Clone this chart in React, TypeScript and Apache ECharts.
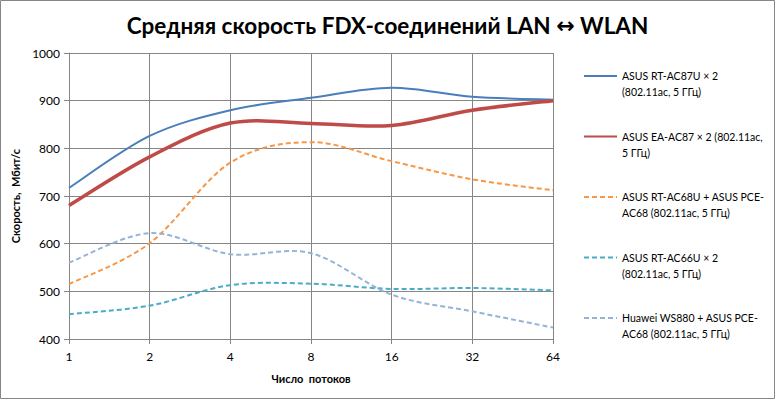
import React, { useEffect, useRef } from "react";
import * as echarts from "echarts";

const threads = ["1", "2", "4", "8", "16", "32", "64"];
const seriesNames = [
  "ASUS RT-AC87U × 2 (802.11ac, 5 ГГц)",
  "ASUS EA-AC87 × 2 (802.11ac, 5 ГГц)",
  "ASUS RT-AC68U + ASUS PCE-AC68 (802.11ac, 5 ГГц)",
  "ASUS RT-AC66U × 2 (802.11ac, 5 ГГц)",
  "Huawei WS880 + ASUS PCE-AC68 (802.11ac, 5 ГГц)",
];
const legendLabels = [
  "ASUS RT-AC87U × 2\n(802.11ac, 5 ГГц)",
  "ASUS EA-AC87 × 2 (802.11ac,\n5 ГГц)",
  "ASUS RT-AC68U + ASUS PCE-\nAC68 (802.11ac, 5 ГГц)",
  "ASUS RT-AC66U × 2\n(802.11ac, 5 ГГц)",
  "Huawei WS880 + ASUS PCE-\nAC68 (802.11ac, 5 ГГц)",
];
const rtAc87u = [717, 826, 880, 906, 927, 908, 902];
const eaAc87 = [680, 782, 853, 852, 848, 880, 900];
const rtAc68u = [515, 601, 770, 813, 773, 735, 712];
const rtAc66u = [452, 470, 513, 516, 505, 507, 502];
const ws880 = [560, 622, 578, 580, 493, 458, 424];
const yTicks = { min: 400, max: 1000, interval: 100 };

const colors = ["#4a7ebb", "#be4b48", "#f79646", "#4bacc6", "#95b3d7"];
const widths = [2, 3.5, 2, 2, 2];
const dashed = [false, false, true, true, true];
const allData = [rtAc87u, eaAc87, rtAc68u, rtAc66u, ws880];

const FONT = "Lato, 'Open Sans', sans-serif";

// Excel-like smoothed path (Catmull-Rom converted to Bezier) in pixel space, from axis coords
function smoothPath(api: any, values: number[]): string {
  const pts = values.map((v, i) => api.coord([i, v]) as number[]);
  const n = pts.length;
  let d = `M${pts[0][0]},${pts[0][1]}`;
  for (let i = 0; i < n - 1; i++) {
    const p0 = pts[Math.max(i - 1, 0)];
    const p1 = pts[i];
    const p2 = pts[i + 1];
    const p3 = pts[Math.min(i + 2, n - 1)];
    const c1x = p1[0] + (p2[0] - p0[0]) / 6;
    const c1y = p1[1] + (p2[1] - p0[1]) / 6;
    const c2x = p2[0] - (p3[0] - p1[0]) / 6;
    const c2y = p2[1] - (p3[1] - p1[1]) / 6;
    d += ` C${c1x},${c1y} ${c2x},${c2y} ${p2[0]},${p2[1]}`;
  }
  return d;
}

export default function App() {
  const ref = useRef<HTMLDivElement>(null);
  useEffect(() => {
    document.body.style.margin = "0";
    const chart = echarts.init(ref.current!, null, { renderer: "svg" });
    const lineSeries = allData.map((d, i) => ({
      name: seriesNames[i],
      type: "line",
      data: d,
      symbol: "none",
      silent: true,
      color: colors[i],
      lineStyle: {
        color: colors[i],
        width: widths[i],
        type: dashed[i] ? [5, 3] : "solid",
        opacity: 0,
      },
      z: 1,
    }));
    const curveSeries = allData.map((d, i) => ({
      name: seriesNames[i],
      type: "custom",
      coordinateSystem: "cartesian2d",
      data: d.map((v, k) => [k, v]),
      encode: { x: 0, y: 1 },
      z: 3,
      renderItem: (params: any, api: any) => {
        if (params.dataIndex !== 0) return null;
        return {
          type: "path",
          shape: { pathData: smoothPath(api, d) },
          style: {
            fill: "none",
            stroke: colors[i],
            lineWidth: widths[i],
            lineDash: dashed[i] ? [5, 3] : null,
            lineCap: "butt",
          },
        };
      },
    }));
    chart.setOption({
      animation: false,
      backgroundColor: "#ffffff",
      textStyle: { fontFamily: FONT },
      title: {
        text: "Средняя скорость FDX-соединений LAN {a|↔} WLAN",
        left: "center",
        top: 9,
        textStyle: {
          fontFamily: FONT,
          fontWeight: "bold",
          fontSize: 22.5,
          color: "#000",
          rich: {
            a: { fontFamily: "'DejaVu Sans'", fontWeight: "bold", fontSize: 22, color: "#000" },
          },
        },
      },
      graphic: [
        {
          type: "rect",
          shape: { x: 0.5, y: 0.5, width: 774, height: 398 },
          style: { fill: "none", stroke: "#868686", lineWidth: 1 },
          silent: true,
        },
      ],
      grid: { left: 69, right: 222, top: 53, bottom: 60 },
      legend: {
        orient: "vertical",
        left: 583,
        top: 52,
        padding: 0,
        itemWidth: 33,
        itemHeight: 14,
        itemGap: 12.5,
        data: seriesNames,
        itemStyle: { opacity: 0 },
        lineStyle: { opacity: 1 },
        formatter: (name: string) => " \n" + legendLabels[seriesNames.indexOf(name)],
        textStyle: {
          fontFamily: FONT,
          fontSize: 10.5,
          color: "#000",
          lineHeight: 16,
        },
      },
      xAxis: {
        type: "category",
        data: threads,
        boundaryGap: false,
        name: "Число  потоков",
        nameLocation: "middle",
        nameGap: 34,
        nameTextStyle: { fontFamily: FONT, fontWeight: "bold", fontSize: 11, color: "#000" },
        axisLine: { lineStyle: { color: "#868686" } },
        axisTick: { show: true, length: 5, lineStyle: { color: "#868686" } },
        axisLabel: { fontFamily: FONT, fontSize: 12, color: "#000", margin: 11 },
        splitLine: { show: true, lineStyle: { color: "#868686", width: 1 } },
      },
      yAxis: {
        type: "value",
        min: yTicks.min,
        max: yTicks.max,
        interval: yTicks.interval,
        name: "Скорость,  Мбит/с",
        nameLocation: "middle",
        nameGap: 44,
        nameTextStyle: { fontFamily: FONT, fontWeight: "bold", fontSize: 11, color: "#000" },
        axisLine: { show: true, lineStyle: { color: "#868686" } },
        axisTick: { show: true, length: 5, lineStyle: { color: "#868686" } },
        axisLabel: {
          fontFamily: FONT,
          fontSize: 12,
          color: "#000",
          margin: 9,
          formatter: (v: number) => String(v),
        },
        splitLine: { show: true, lineStyle: { color: "#868686", width: 1 } },
      },
      series: [...lineSeries, ...curveSeries],
    });
    return () => chart.dispose();
  }, []);
  return <div ref={ref} style={{ width: 775, height: 399 }} />;
}
